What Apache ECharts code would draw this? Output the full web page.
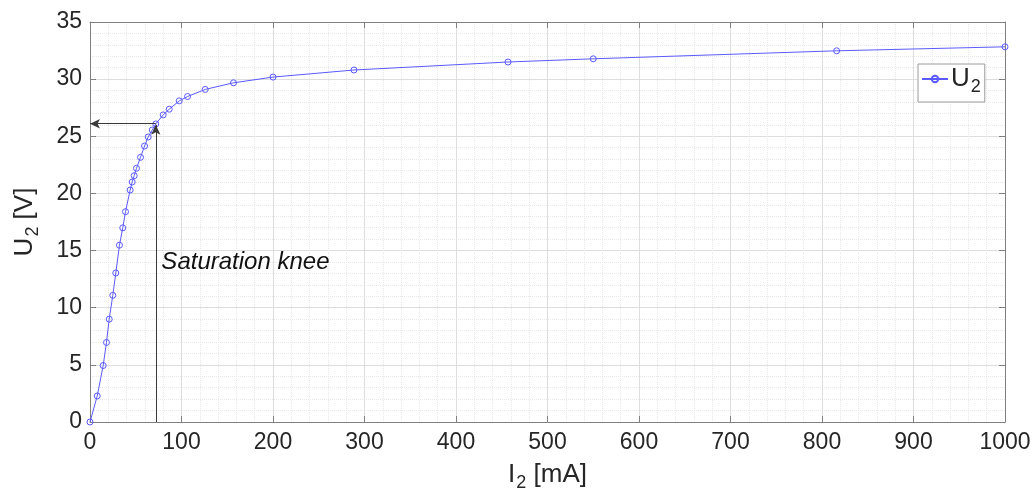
<!DOCTYPE html>
<html>
<head>
<meta charset="utf-8">
<script src="https://cdn.jsdelivr.net/npm/echarts@6/dist/echarts.min.js"></script>
<style>
  html, body { margin: 0; padding: 0; background: #fff; }
  #chart { width: 1034px; height: 493px; }
</style>
</head>
<body>
<div id="chart"></div>
<script>
// Secondary current I2 (mA) and secondary voltage U2 (V)
const currentMA = [0, 7.9, 14.4, 18.0, 21.0, 24.9, 28.2, 32.2, 35.8, 38.8, 43.9, 46.1, 48.3, 50.8,
  55.2, 59.6, 63.6, 68.0, 71.9, 80.0, 86.6, 97.5, 106.6, 125.9, 156.8, 200, 288.5, 456.8, 550, 816, 1000];
const voltageV = [0, 2.28, 4.94, 6.96, 9.0, 11.08, 13.04, 15.47, 16.99, 18.4, 20.3, 21.0, 21.55, 22.2,
  23.16, 24.15, 24.94, 25.55, 26.08, 26.87, 27.37, 28.1, 28.48, 29.1, 29.68, 30.18, 30.8, 31.5, 31.78, 32.48, 32.83];

// Saturation knee marker and its label anchor
const knee = [71.9, 26.1];
const kneeLabelAt = [78, 14];
const kneeLabel = 'Saturation knee';

// Axis ranges and ticks
const xRange = [0, 1000], xStep = 100;
const yRange = [0, 35], yStep = 5;

const FONT = '"Liberation Sans", Arial, Helvetica, sans-serif';
const AX = '#808080';
const TXT = '#262626';
const LINE = '#5a5aff';

const subRich = {
  a: { fontSize: 26, fontFamily: FONT, color: TXT },
  b: { fontSize: 18, fontFamily: FONT, color: TXT, padding: [16, 0, 0, 1] }
};

function mainX(extra) {
  return Object.assign({
    type: 'value', min: xRange[0], max: xRange[1], interval: xStep,
    axisLine: { show: true, onZero: false, lineStyle: { color: AX, width: 1 } },
    axisTick: { show: true, inside: true, length: 6, lineStyle: { color: AX } },
    minorTick: { show: false, splitNumber: 5 },
  }, extra);
}
function mainY(extra) {
  return Object.assign({
    type: 'value', min: yRange[0], max: yRange[1], interval: yStep,
    axisLine: { show: true, onZero: false, lineStyle: { color: AX, width: 1 } },
    axisTick: { show: true, inside: true, length: 6, lineStyle: { color: AX } },
    minorTick: { show: false, splitNumber: 5 },
  }, extra);
}

const points = currentMA.map((x, i) => [x, voltageV[i]]);

const chart = echarts.init(document.getElementById('chart'), null, { renderer: 'canvas' });
chart.setOption({
  animation: false,
  backgroundColor: '#ffffff',
  grid: { left: 90, right: 29, top: 22, bottom: 71, containLabel: false, outerBoundsMode: 'none' },
  legend: {
    data: ['U2'],
    left: 918, top: 64,
    orient: 'vertical',
    backgroundColor: '#fff',
    borderColor: '#9a9a9a', borderWidth: 1,
    padding: [2, 4, 6, 3],
    itemWidth: 26, itemHeight: 8, itemGap: 0,
    formatter: () => '{a|U}{b|2}',
    textStyle: { rich: subRich, padding: [0, 0, 0, -2] }
  },
  xAxis: [
    mainX({
      position: 'bottom',
      name: '{a|I}{b|2}{a| [mA]}', nameLocation: 'middle', nameGap: 36,
      nameTextStyle: { rich: subRich },
      axisLabel: { fontSize: 23, fontFamily: FONT, color: TXT, margin: 9, formatter: v => String(v) },
      splitLine: { show: true, lineStyle: { color: '#dedede', width: 1 } },
      minorSplitLine: { show: true, lineStyle: { color: '#e8e8e8', width: 1, type: 'dotted' } }
    }),
    mainX({ position: 'top', axisLabel: { show: false }, splitLine: { show: false } })
  ],
  yAxis: [
    mainY({
      position: 'left',
      name: '{a|U}{b|2}{a| [V]}', nameLocation: 'middle', nameGap: 48, nameRotate: 90,
      nameTextStyle: { rich: subRich },
      axisLabel: { fontSize: 23, fontFamily: FONT, color: TXT, margin: 8 },
      splitLine: { show: true, lineStyle: { color: '#dedede', width: 1 } },
      minorSplitLine: { show: true, lineStyle: { color: '#e8e8e8', width: 1, type: 'dotted' } }
    }),
    mainY({ position: 'right', axisLabel: { show: false }, splitLine: { show: false } })
  ],
  series: [{
    name: 'U2',
    type: 'line',
    xAxisIndex: 0, yAxisIndex: 0,
    data: points,
    symbol: 'circle',
    symbolSize: 6,
    showAllSymbol: true,
    itemStyle: { color: 'rgba(255,255,255,0)', borderColor: LINE, borderWidth: 1 },
    lineStyle: { color: LINE, width: 1 },
    emphasis: { disabled: true },
    markLine: {
      silent: true,
      symbol: ['none', 'arrow'],
      symbolSize: [7, 10],
      label: { show: false },
      lineStyle: { color: '#3a3a3a', width: 1, type: 'solid' },
      data: [
        [{ coord: [knee[0], 0] }, { coord: [knee[0], knee[1] - 0.1] }],
        [{ coord: [knee[0], knee[1]] }, { coord: [0, knee[1]] }]
      ]
    },
    markPoint: {
      silent: true,
      symbol: 'circle', symbolSize: 0,
      data: [{ coord: kneeLabelAt }],
      label: {
        show: true, position: 'right', distance: 0,
        formatter: kneeLabel,
        fontSize: 24, fontStyle: 'italic', fontFamily: FONT, color: '#111'
      }
    }
  }]
});
</script>
</body>
</html>
